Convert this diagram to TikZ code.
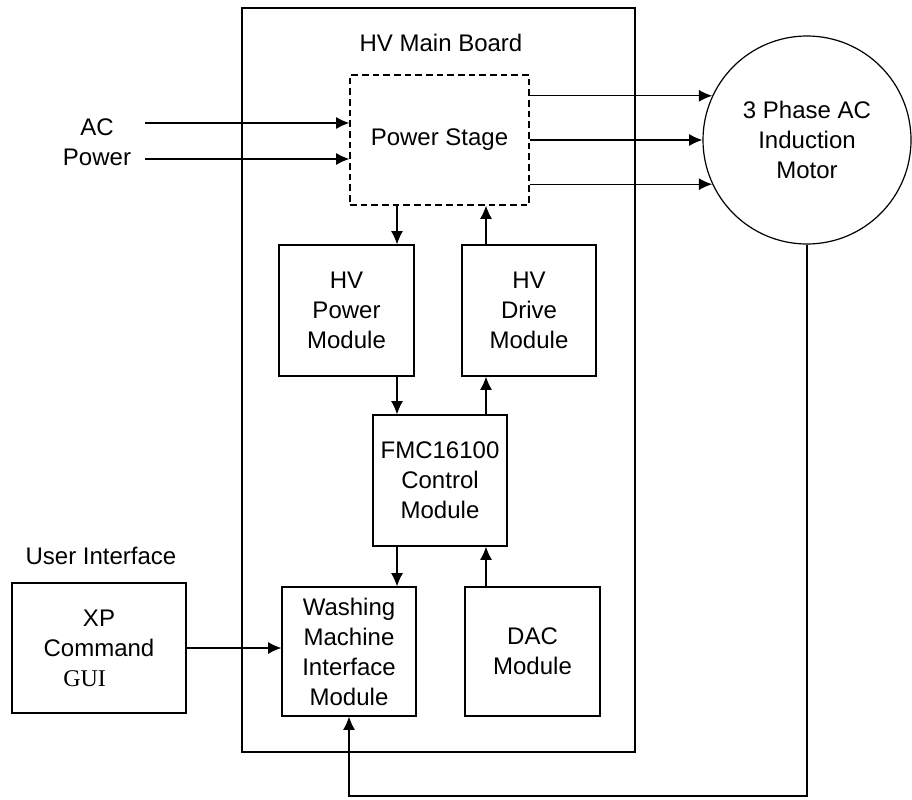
\documentclass[tikz,border=0pt]{standalone}
\usepackage{fontspec}
\setmainfont{Liberation Sans}
\newfontfamily\guifont{Liberation Serif}
\usetikzlibrary{arrows.meta}

\begin{document}
\begin{tikzpicture}[x=0.75pt,y=-0.75pt, line width=0.9pt,
  blk/.style={draw,inner sep=0pt,align=center,font=\fontsize{18}{22.5}\selectfont},
  lbl/.style={inner sep=0pt,align=center,font=\fontsize{18}{22.5}\selectfont},
  arr/.style={-{Latex[length=10pt,width=9pt]}}]
  \useasboundingbox (0,0) rectangle (912,799);

  \node[blk,minimum width=294.75pt,minimum height=558pt] (board) at (438.5,380) {};
  \node[lbl] (title) at (441,43) {HV Main Board};

  \node[blk,dashed,dash pattern=on 5pt off 3pt,minimum width=134.25pt,minimum height=97.5pt] (ps) at (439.5,140) {Power Stage};
  \node[blk,minimum width=101.25pt,minimum height=98.25pt] (hvpower) at (346.5,310.5) {HV\\Power\\Module};
  \node[blk,minimum width=100.5pt,minimum height=98.25pt] (hvdrive) at (529,310.5) {HV\\Drive\\Module};
  \node[blk,minimum width=100.5pt,minimum height=98.25pt] (fmc) at (440,480.5) {FMC16100\\Control\\Module};
  \node[blk,minimum width=100.5pt,minimum height=96.75pt] (wmi) at (349,651.5) {Washing\\Machine\\Interface\\Module};
  \node[blk,minimum width=101.25pt,minimum height=96.75pt] (dac) at (532.5,651.5) {DAC\\Module};
  \node[blk,minimum width=130.5pt,minimum height=97.5pt] (xp) at (99,648) {XP\\Command\\\hspace*{-1.2em}{\guifont GUI}};
  \node[blk,circle,minimum size=156pt] (motor) at (807,140) {3 Phase AC\\Induction\\Motor};

  \node[lbl] (acpower) at (97,142) {AC\\Power};
  \node[lbl] (ui) at (101,556) {User Interface};

  \coordinate (ac1) at (145,123);
  \coordinate (ac2) at (145,159);
  \coordinate (xl) at (397,0);
  \coordinate (xr) at (486,0);
  \coordinate (fb) at (0,796);

  \draw[arr] (ac1) -- (ac1 -| ps.west);
  \draw[arr] (ac2) -- (ac2 -| ps.west);
  \draw[arr] (ps.east |- motor.155) -- (motor.155);
  \draw[arr] (ps.east) -- (motor.west);
  \draw[arr] (ps.east |- motor.205) -- (motor.205);
  \draw[arr] (ps.south -| xl) -- (hvpower.north -| xl);
  \draw[arr] (hvdrive.north -| xr) -- (ps.south -| xr);
  \draw[arr] (hvpower.south -| xl) -- (fmc.north -| xl);
  \draw[arr] (fmc.north -| xr) -- (hvdrive.south -| xr);
  \draw[arr] (fmc.south -| xl) -- (wmi.north -| xl);
  \draw[arr] (dac.north -| xr) -- (fmc.south -| xr);
  \draw[arr] (xp.east) -- (xp.east -| wmi.west);
  \draw[arr] (motor.south) -- (motor.south |- fb) -| (wmi.south);
\end{tikzpicture}
\end{document}
